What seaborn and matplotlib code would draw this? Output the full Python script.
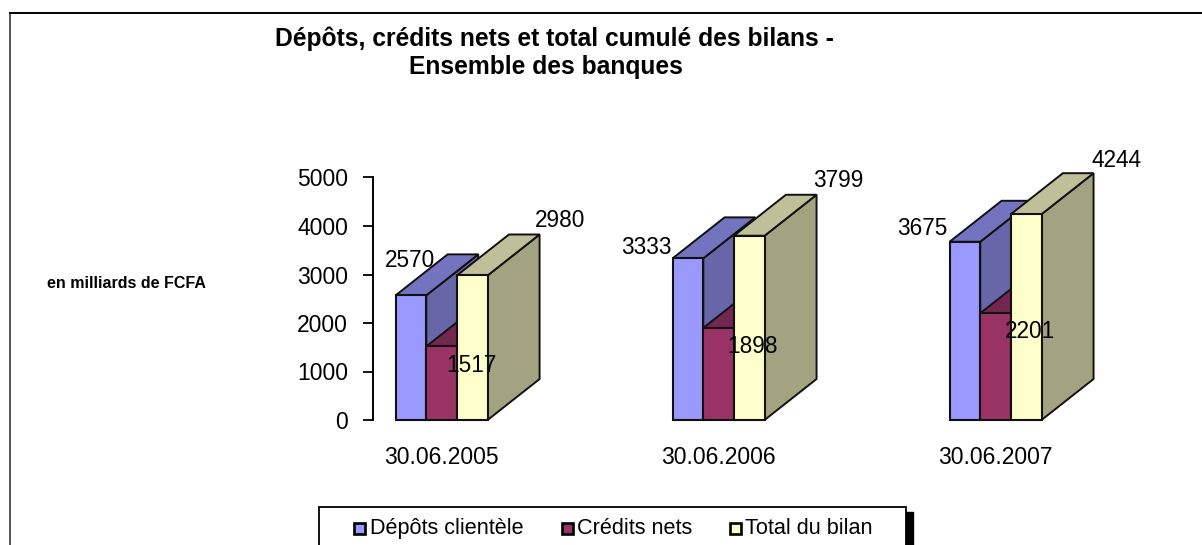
import numpy as np
import pandas as pd
import seaborn as sns
import matplotlib.pyplot as plt
from matplotlib.patches import Polygon, Rectangle

dates = ['30.06.2005', '30.06.2006', '30.06.2007']
depots = [2570, 3333, 3675]
credits_nets = [1517, 1898, 2201]
total_bilan = [2980, 3799, 4244]

series_names = ['Dépôts clientèle', 'Crédits nets', 'Total du bilan']
front_colors = ['#9999ff', '#993366', '#ffffcc']
side_colors = ['#6666a8', '#662244', '#a3a382']
top_colors = ['#7373bf', '#732650', '#bfbf99']

# label offsets in pixels from the top centre of each bar
label_offsets = {
    0: [(-1, 35), (-42, 11), (-43, 13)],
    1: [(30, -19), (34, -19), (34, -18)],
    2: [(88, 55), (89, 55), (90, 54)],
}

W, H = 1202, 545
plt.rcParams['font.family'] = ['Liberation Sans', 'DejaVu Sans']

df = pd.DataFrame({
    'date': dates * 3,
    'serie': np.repeat(series_names, 3),
    'valeur': depots + credits_nets + total_bilan,
})

fig = plt.figure(figsize=(W / 100, H / 100), dpi=100)
ax = fig.add_axes([372.5 / W, 1 - 420 / H, 725 / W, 242.5 / H])

sns.barplot(data=df, x='date', y='valeur', hue='serie', palette=front_colors,
            width=0.332, gap=0, saturation=1, edgecolor='#111111', linewidth=1.5,
            legend=False, ax=ax)

ax.set_xlim(-0.2495, 2.368)
ax.set_ylim(0, 5000)
ax.set_yticks([0, 1000, 2000, 3000, 4000, 5000])
ax.set_xlabel('')
ax.set_ylabel('')
for s in ['top', 'right', 'bottom']:
    ax.spines[s].set_visible(False)
ax.spines['left'].set_linewidth(1.4)
ax.tick_params(axis='y', length=7, width=1.3, labelsize=16.5, pad=10.7)
ax.tick_params(axis='x', length=0, labelsize=16.5, pad=18.7)

# 3D look: each bar gets a side and a top face, drawn left to right
depth_x = 52 / 277
depth_y = 845
bars = ax.patches[:9]
for i in range(3):
    for j in range(3):
        b = bars[i * 3 + j]
        x0, x1 = b.get_x(), b.get_x() + b.get_width()
        h = b.get_height()
        z = 3 + i * 3
        side = [(x1, 0), (x1 + depth_x, depth_y), (x1 + depth_x, h + depth_y), (x1, h)]
        top = [(x0, h), (x0 + depth_x, h + depth_y), (x1 + depth_x, h + depth_y), (x1, h)]
        ax.add_patch(Polygon(side, fc=side_colors[i], ec='#111111', lw=1.4, zorder=z, clip_on=False))
        ax.add_patch(Polygon(top, fc=top_colors[i], ec='#111111', lw=1.4, zorder=z, clip_on=False))
        b.set_zorder(z + 1)
        b.set_clip_on(False)
        ax.annotate(str(int(h)), (b.get_x() + b.get_width() / 2, h),
                    xytext=label_offsets[i][j], textcoords='offset pixels',
                    ha='center', va='center', fontsize=16.3, color='black',
                    zorder=20, annotation_clip=False)

fig.text(554 / W, 1 - 39 / H, 'Dépôts, crédits nets et total cumulé des bilans -',
         ha='center', va='center', fontsize=17.7, fontweight='bold')
fig.text(546 / W, 1 - 67 / H, 'Ensemble des banques',
         ha='center', va='center', fontsize=17.7, fontweight='bold')
fig.text(126.5 / W, 1 - 283 / H, 'en milliards de FCFA',
         ha='center', va='center', fontsize=11.5, fontweight='bold')

# outer frame of the chart area
fig.add_artist(plt.Line2D([10 / W, 10 / W], [0, 1 - 12.5 / H], color='#555555', lw=1.4))
fig.add_artist(plt.Line2D([10 / W, 1], [1 - 12.5 / H, 1 - 12.5 / H], color='black', lw=1.4))

# legend box runs off the bottom, with a hard black shadow
fig.add_artist(Rectangle((323 / W, -20 / H), 590 / W, (20 + 545 - 512) / H,
                         transform=fig.transFigure, fc='black', ec='black'))
fig.add_artist(Rectangle((318.5 / W, -20 / H), 587 / W, (20 + 545 - 507) / H,
                         transform=fig.transFigure, fc='white', ec='black', lw=1.3))
swatch_x = [354, 562, 730]
text_x = [370, 577, 745]
for name, col, x, tx in zip(series_names, front_colors, swatch_x, text_x):
    fig.add_artist(Rectangle((x / W, 1 - 534 / H), 11 / W, 11 / H, transform=fig.transFigure,
                             fc=col, ec='black', lw=1.9))
    fig.text(tx / W, 1 - 534 / H, name, ha='left', va='baseline', fontsize=15.6)

fig.savefig('out.png', dpi=100)
